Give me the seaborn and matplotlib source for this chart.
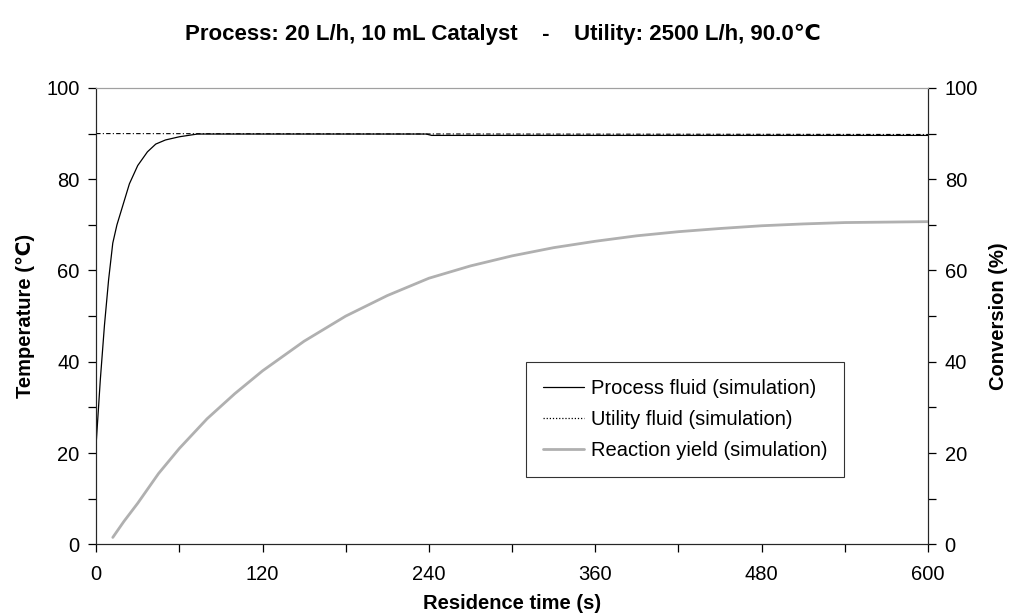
import numpy as np
import pandas as pd
import matplotlib.pyplot as plt
import seaborn as sns
from matplotlib.lines import Line2D
from matplotlib.ticker import MultipleLocator

sns.set_style("ticks")
plt.rcParams['font.family'] = ['Liberation Sans', 'DejaVu Sans']
plt.rcParams['text.color'] = 'black'
plt.rcParams['axes.labelcolor'] = 'black'
plt.rcParams['xtick.color'] = 'black'
plt.rcParams['ytick.color'] = 'black'

# -----------------------------
# Data
# -----------------------------
proc_t = [0, 3, 6, 9, 12, 15, 19, 24, 30, 37, 43, 50, 60, 73, 120, 180, 238, 242, 300, 420, 600]
proc_T = [22, 36, 48, 58, 66, 70, 74, 79, 83, 86, 87.7, 88.6, 89.3, 89.9, 89.9, 89.9, 89.9, 89.6, 89.6, 89.6, 89.6]

util_t = [0, 600]
util_T = [90, 89.8]

yield_t = [12, 20, 30, 45, 60, 80, 100, 120, 150, 180, 210, 240, 270, 300, 330, 360, 390, 420, 450, 480, 510, 540, 570, 600]
yield_X = [1.5, 5, 9, 15.5, 21, 27.5, 33, 38, 44.5, 50, 54.5, 58.3, 61, 63.2, 65, 66.4, 67.6, 68.5, 69.2, 69.8, 70.2, 70.5, 70.6, 70.7]

proc = pd.DataFrame({'t': proc_t, 'T': proc_T})
util = pd.DataFrame({'t': util_t, 'T': util_T})
yld = pd.DataFrame({'t': yield_t, 'X': yield_X})

# -----------------------------
# Plot
# -----------------------------
fig, ax = plt.subplots(figsize=(10.12, 6.15), dpi=100)
fig.subplots_adjust(left=0.095, right=0.917, top=0.857, bottom=0.115)
ax2 = ax.twinx()

sns.lineplot(data=proc, x='t', y='T', ax=ax, color='black', linewidth=0.9)
sns.lineplot(data=util, x='t', y='T', ax=ax, color='black', linewidth=0.8,
             linestyle=(0, (4, 2, 1, 2)))
sns.lineplot(data=yld, x='t', y='X', ax=ax2, color='#b0b0b0', linewidth=2.0)

for a in (ax, ax2):
    a.set_ylim(0, 100)
    a.yaxis.set_major_locator(MultipleLocator(20))
    a.yaxis.set_minor_locator(MultipleLocator(10))
    a.tick_params(axis='y', which='both', direction='out', length=6, width=0.9,
                  pad=6, labelsize=14.5)
    a.spines['top'].set_color('#a0a0a0')

ax.set_xlim(0, 600)
ax.xaxis.set_major_locator(MultipleLocator(120))
ax.xaxis.set_minor_locator(MultipleLocator(60))
ax.tick_params(axis='x', which='both', direction='out', length=6, width=0.9,
               pad=9, labelsize=14.5)

ax.set_xlabel("Residence time (s)", fontsize=14.5, fontweight='bold', labelpad=7)
ax.set_ylabel("Temperature (\u2103)", fontsize=14.5, fontweight='bold', labelpad=8)
ax2.set_ylabel("Conversion (%)", fontsize=14.5, fontweight='bold', labelpad=8)

fig.suptitle("Process: 20 L/h, 10 mL Catalyst    -    Utility: 2500 L/h, 90.0\u2103",
             fontsize=16, fontweight='bold', x=0.497, y=0.962)

handles = [
    Line2D([], [], color='black', linewidth=0.9),
    Line2D([], [], color='black', linewidth=0.9, linestyle=(0, (1, 1.5))),
    Line2D([], [], color='#b0b0b0', linewidth=2.0),
]
labels = ["Process fluid (simulation)", "Utility fluid (simulation)", "Reaction yield (simulation)"]
leg = ax2.legend(handles, labels, loc='lower left', bbox_to_anchor=(0.517, 0.147),
                 fontsize=14.5, frameon=True, fancybox=False, edgecolor='black',
                 handlelength=2.0, handletextpad=0.35, labelspacing=0.6,
                 borderpad=0.85, borderaxespad=0)
leg.get_frame().set_linewidth(0.8)

plt.savefig("out.png", dpi=100)
plt.close()
